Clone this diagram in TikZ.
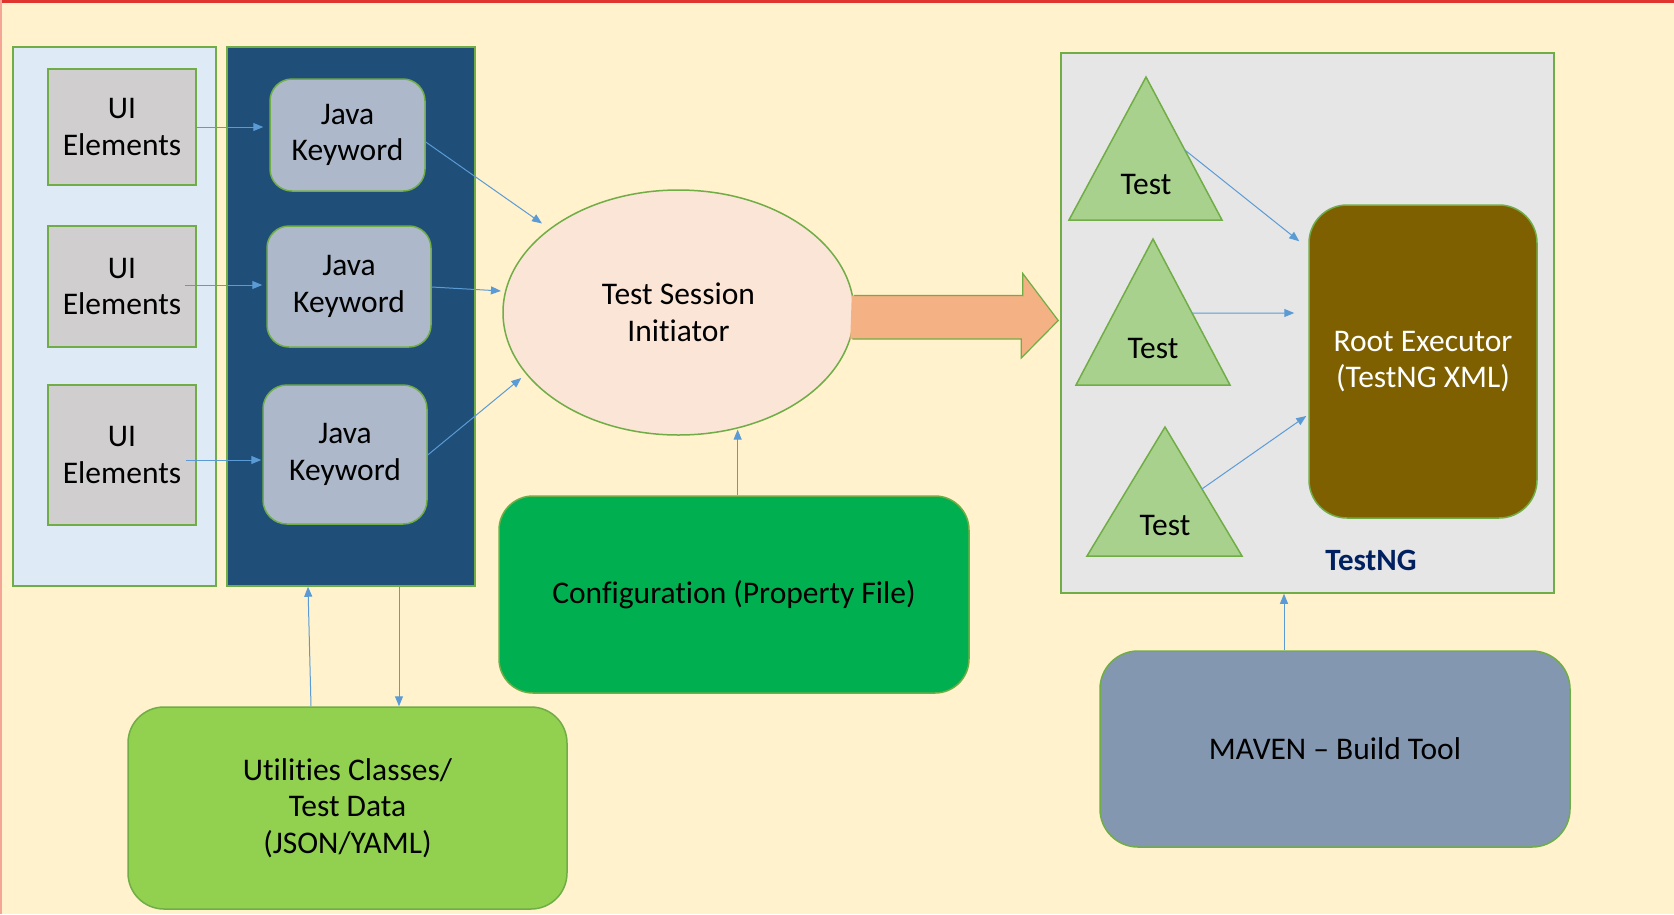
\documentclass[tikz,border=0pt]{standalone}
\usepackage{fontspec}
\setmainfont{Carlito}[Ligatures=NoCommon]
\usetikzlibrary{arrows.meta,shapes.geometric,calc}
\definecolor{bgc}{HTML}{FFF2CC}
\definecolor{topred}{HTML}{E0352F}
\definecolor{leftred}{HTML}{F5A596}
\definecolor{gborder}{HTML}{70AD47}
\definecolor{lightpanel}{HTML}{DEEBF7}
\definecolor{darkpanel}{HTML}{1F4E79}
\definecolor{uigrey}{HTML}{D0CECE}
\definecolor{javac}{HTML}{ADB9CA}
\definecolor{ellc}{HTML}{FBE5D6}
\definecolor{bigarr}{HTML}{F4B183}
\definecolor{cfgc}{HTML}{00B050}
\definecolor{utilc}{HTML}{92D050}
\definecolor{tngc}{HTML}{E7E6E6}
\definecolor{tric}{HTML}{A9D18E}
\definecolor{rootc}{HTML}{7F6000}
\definecolor{mavenc}{HTML}{8497B0}
\definecolor{connc}{HTML}{5B9BD5}
\definecolor{navy}{HTML}{002060}
\newcommand\mainfs{\fontsize{31.5}{36.5}\selectfont}
\begin{document}
\begin{tikzpicture}[x=1pt,y=-1pt,
  bx/.style={draw=gborder, line width=1.5pt, inner sep=0pt, align=center, font=\mainfs, text=black},
  rbx/.style={bx, rounded corners=#1},
  conn/.style={draw=connc, line width=1pt, -{Triangle[length=10pt,width=8pt]}},
  tri/.style={draw=gborder, line width=1.5pt, fill=tric, line join=miter},
  lbl/.style={font=\mainfs, text=black, inner sep=0pt}]
\useasboundingbox (0,0) rectangle (1674,914);
\fill[bgc] (0,0) rectangle (1674,914);
\fill[topred] (0,0) rectangle (1674,2.5);
\fill[leftred] (0,0) rectangle (2,914);

% left panels
\node[bx, fill=lightpanel, minimum width=203pt, minimum height=539pt] (uipanel) at (114.5,316.5) {};
\node[bx, fill=darkpanel, minimum width=248pt, minimum height=539pt] (dark) at (351,316.5) {};

% UI element boxes
\node[bx, fill=uigrey, minimum width=148pt, minimum height=116pt] (ui1) at (122,127) {UI\\Elements};
\node[bx, fill=uigrey, minimum width=148pt, minimum height=121pt] (ui2) at (122,286.5) {UI\\Elements};
\node[bx, fill=uigrey, minimum width=148pt, minimum height=140pt] (ui3) at (122,455) {UI\\Elements};

% Java keyword boxes
\node[rbx=22pt, fill=javac, minimum width=155pt, minimum height=112pt] (java1) at (347.5,135) {Java\\Keyword};
\node[rbx=22pt, fill=javac, minimum width=164pt, minimum height=121pt] (java2) at (349,286.5) {Java\\Keyword};
\node[rbx=24pt, fill=javac, minimum width=164pt, minimum height=139pt] (java3) at (345,454.5) {Java\\Keyword};

% ellipse
\node[bx, ellipse, fill=ellc, minimum width=351pt, minimum height=245pt] (ell) at (678.5,312.5) {Test Session\\Initiator};

% configuration
\node[rbx=34pt, fill=cfgc, minimum width=470pt, minimum height=197pt] (cfg) at (734,594.5) {Configuration (Property File)};

% utilities
\node[rbx=36pt, fill=utilc, minimum width=439pt, minimum height=202pt] (util) at (347.5,808) {Utilities Classes/\\Test Data\\(JSON/YAML)};

% TestNG container
\node[bx, fill=tngc, minimum width=493pt, minimum height=540pt] (tng) at (1307.5,323) {};
\node[inner sep=0pt, font=\fontsize{31}{36}\selectfont\bfseries, text=navy] (tnglabel) at (1371,560) {TestNG};

% root executor
\node[rbx=38pt, fill=rootc, minimum width=228pt, minimum height=313pt, text=white] (root) at (1423,361.5) {Root Executor\\(TestNG XML)};

% maven
\node[rbx=38pt, fill=mavenc, minimum width=470pt, minimum height=196pt] (maven) at (1335,749) {MAVEN -- Build Tool};

% triangles
\coordinate (t1a) at (1146,77);  \coordinate (t1r) at (1222,220); \coordinate (t1l) at (1069,220);
\coordinate (t2a) at (1153,239); \coordinate (t2r) at (1230,385); \coordinate (t2l) at (1076,385);
\coordinate (t3a) at (1165,427); \coordinate (t3r) at (1242,556); \coordinate (t3l) at (1087,556);
\draw[tri] (t1a) -- (t1r) -- (t1l) -- cycle;
\draw[tri] (t2a) -- (t2r) -- (t2l) -- cycle;
\draw[tri] (t3a) -- (t3r) -- (t3l) -- cycle;
\node[lbl] (test1) at (1146,185) {Test};
\node[lbl] (test2) at (1153,349) {Test};
\node[lbl] (test3) at (1165,525) {Test};

% big arrow ellipse -> TestNG
\fill[bigarr] ([xshift=-3pt,yshift=17pt]ell.east) -- ++(171,0) -- ++(0,-22) -- ($(tng.west)+(-2,-2.5)$) -- ++(-37,37.5) -- ++(0,-19) -- ++(-171,0) -- cycle;
\draw[gborder, line width=1.2pt, line join=miter] ([xshift=-1pt,yshift=17pt]ell.east) -- ++(169,0) -- ++(0,-22) -- ($(tng.west)+(-2,-2.5)$) -- ++(-37,37.5) -- ++(0,-19) -- ++(-169,0);

% UI -> Java connectors
\draw[conn, shorten >=6pt] (ui1.east) -- (ui1.east -| java1.west);
\coordinate (u2s) at ([xshift=-12pt,yshift=1.5pt]ui2.east);
\draw[conn, shorten >=4pt] (u2s) -- (u2s -| java2.west);
\coordinate (u3s) at ([xshift=-11pt,yshift=-5pt]ui3.east);
\draw[conn, shorten >=1pt] (u3s) -- (u3s -| java3.west);

% Java -> ellipse
\draw[conn, shorten >=9pt] ([yshift=-7pt]java1.east) -- (ell.147);
\draw[conn, shorten >=4pt] ([yshift=-0.5pt]java2.east) -- (ell.173);
\draw[conn, shorten >=6pt] ([yshift=-0.5pt]java3.east) -- (ell.202);

% config -> ellipse
\draw[conn, shorten >=1pt] (cfg.north -| ell.297) -- (ell.297);

% utilities <-> dark panel
\draw[conn] ([xshift=-36.5pt]util.north) -- ([xshift=-43pt]dark.south);
\draw[conn] ([xshift=48pt]dark.south) -- ([xshift=51.5pt]util.north);

% tests -> root
\draw[conn] ($(t1a)!0.51!(t1r)$) -- ([xshift=-9pt,yshift=-37pt]root.north west);
\draw[conn] ($(t2a)!0.507!(t2r)$) -- ([xshift=-14pt,yshift=48.5pt]root.west);
\draw[conn] ($(t3a)!0.48!(t3r)$) -- ([xshift=-2pt,yshift=-54.5pt]root.west);

% maven -> TestNG
\draw[conn] ([xshift=-51pt]maven.north) -- ([xshift=-23.5pt]tng.south);
\end{tikzpicture}
\end{document}
